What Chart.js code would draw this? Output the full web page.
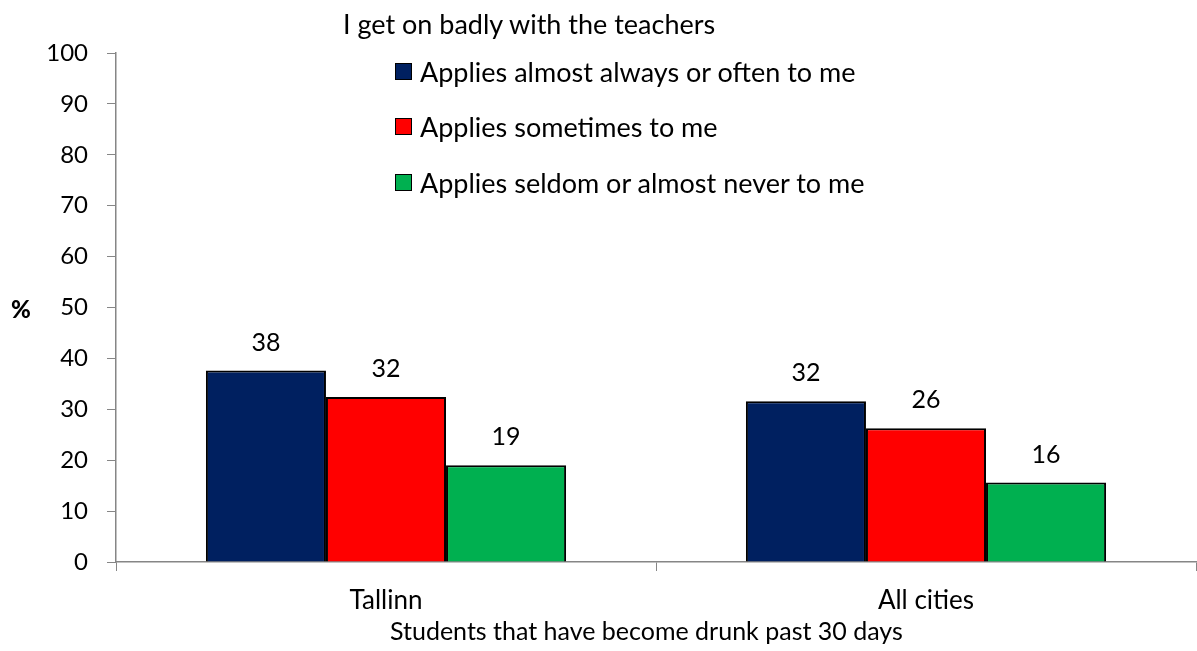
<!DOCTYPE html>
<html>
<head>
<meta charset="utf-8">
<script src="https://cdn.jsdelivr.net/npm/chart.js@4"></script>
<style>
  body { margin: 0; background: #fff; }
  #wrap { position: relative; width: 1197px; height: 651px; font-family: Lato, sans-serif; color: #000; }
  #wrap canvas { position: absolute; left: 0; top: 0; }
  .txt { position: absolute; white-space: nowrap; line-height: 1; }
  #title { left: 343px; top: 10px; font-size: 27px; }
  #xtitle { left: 390px; top: 618px; font-size: 25px; }
  #ylab { left: 11px; top: 297px; font-size: 24px; font-weight: 900; }
  .leg { position: absolute; left: 420px; font-size: 27px; white-space: nowrap; line-height: 1; }
  .box { position: absolute; left: 395px; width: 15px; height: 15px; border: 1px solid #000; }
</style>
</head>
<body>
<div id="wrap">
  <canvas id="chart" width="1197" height="651"></canvas>
  <div id="title" class="txt">I get on badly with the teachers</div>
  <div id="xtitle" class="txt">Students that have become drunk past 30 days</div>
  <div id="ylab" class="txt">%</div>
</div>
<script>
let categories = ["Tallinn", "All cities"];
let seriesNames = [
  "Applies almost always or often to me",
  "Applies sometimes to me",
  "Applies seldom or almost never to me",
];
let often = [37.6, 31.6];
let sometimes = [32.4, 26.3];
let seldom = [19.0, 15.6];
let colorHex = ["#002060", "#ff0000", "#00b050"];
let legendRows = [72, 127, 183];

// legend as plain text next to the chart
let wrap = document.getElementById("wrap");
seriesNames.forEach((name, i) => {
  let b = document.createElement("div");
  b.className = "box";
  b.style.top = (legendRows[i] - 9) + "px";
  b.style.background = colorHex[i];
  wrap.appendChild(b);
  let t = document.createElement("div");
  t.className = "leg";
  t.style.top = (legendRows[i] - 14) + "px";
  t.textContent = name;
  wrap.appendChild(t);
});

// value labels above bars
let barLabels = {
  id: "barLabels",
  afterDatasetsDraw(chart) {
    let ctx = chart.ctx;
    ctx.save();
    ctx.font = "25px Lato";
    ctx.fillStyle = "#000";
    ctx.textAlign = "center";
    ctx.textBaseline = "middle";
    chart.data.datasets.forEach((ds, i) => {
      chart.getDatasetMeta(i).data.forEach((bar, j) => {
        ctx.fillText(Math.round(ds.data[j]), bar.x, bar.y - 28);
      });
    });
    ctx.restore();
  },
};

let ctx = document.getElementById("chart").getContext("2d");
let chart = new Chart(ctx, {
  type: "bar",
  data: {
    labels: categories,
    datasets: [
      { label: seriesNames[0], data: often, backgroundColor: colorHex[0] },
      { label: seriesNames[1], data: sometimes, backgroundColor: colorHex[1] },
      { label: seriesNames[2], data: seldom, backgroundColor: colorHex[2] },
    ],
  },
  options: {
    responsive: false,
    animation: false,
    layout: { padding: { top: 53, right: 1, bottom: 0, left: 0 } },
    datasets: {
      bar: {
        borderColor: "#000",
        borderWidth: 2,
        borderSkipped: "bottom",
        barPercentage: 1,
        categoryPercentage: 0.667,
      },
    },
    plugins: {
      legend: { display: false },
      tooltip: { enabled: false },
    },
    scales: {
      x: {
        afterFit: (s) => { s.height = 89; },
        grid: { offset: true, drawOnChartArea: false, tickLength: 9, color: "#868686" },
        border: { color: "#868686", width: 1.5 },
        ticks: { color: "#000", font: { family: "Lato", size: 26 }, padding: 14 },
      },
      y: {
        min: 0,
        max: 100,
        afterFit: (s) => { s.width = 116; },
        grid: { drawOnChartArea: false, tickLength: 9, color: "#868686" },
        border: { color: "#868686", width: 1.5 },
        ticks: { stepSize: 10, color: "#000", font: { family: "Lato", size: 24 }, padding: 19 },
      },
    },
  },
  plugins: [barLabels],
});
</script>
</body>
</html>
